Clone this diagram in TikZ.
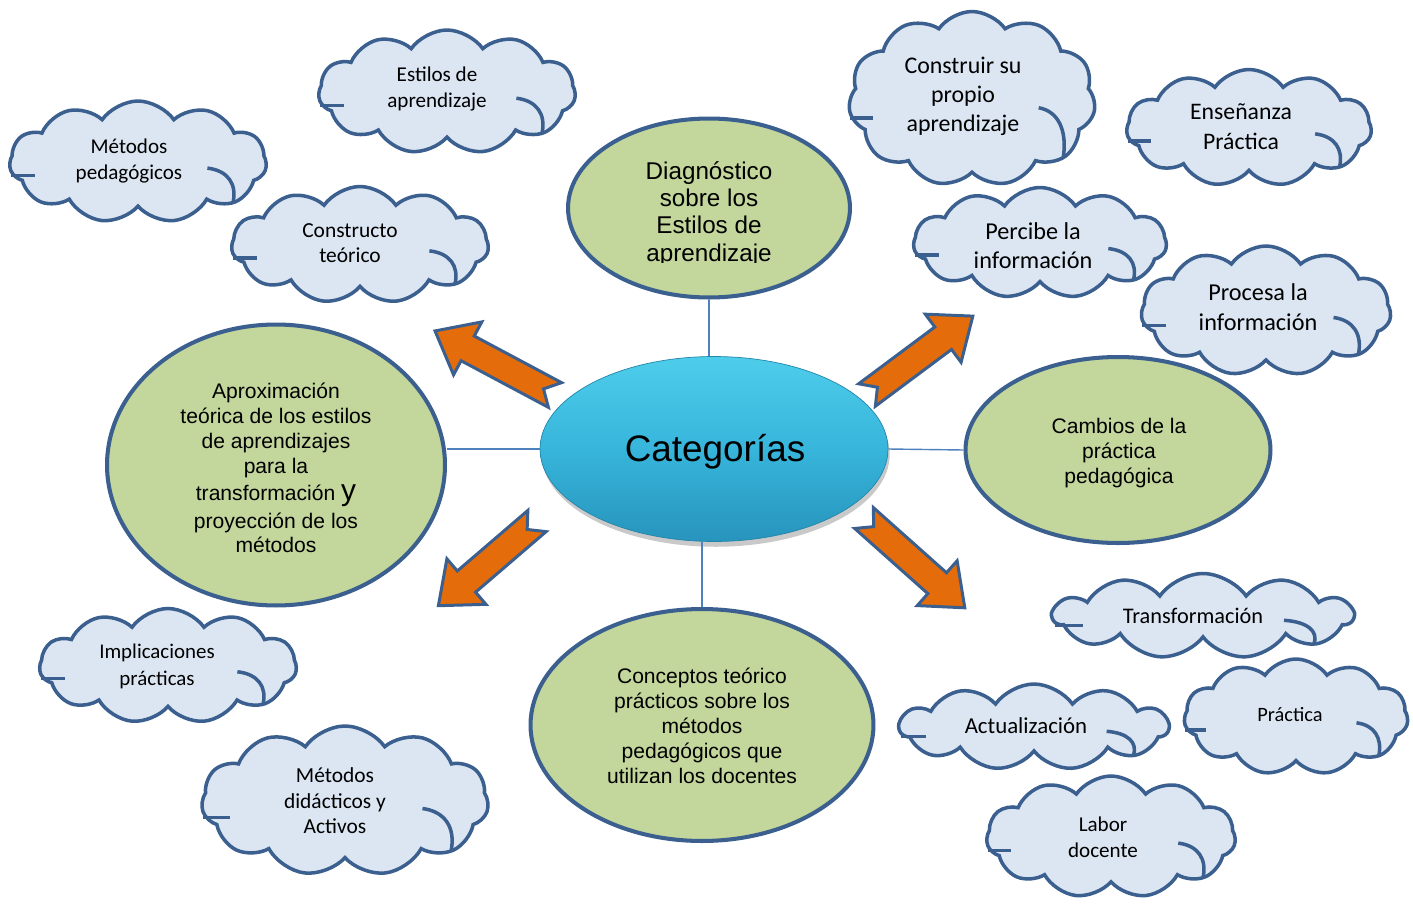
\documentclass[tikz,border=0pt]{standalone}
\usepackage{fontspec}
\setmainfont{Liberation Sans}
\newfontfamily\calibri{Carlito}
\usetikzlibrary{shapes.symbols,shapes.geometric,shadows}
\definecolor{cloudfill}{HTML}{DCE6F2}
\definecolor{edge}{HTML}{3B5F8E}
\definecolor{ellfill}{HTML}{C3D69B}
\definecolor{orng}{HTML}{E46C0A}
\definecolor{connc}{HTML}{4F81BD}
\definecolor{catTop}{HTML}{4ECDEB}
\definecolor{catMid}{HTML}{37B5DB}
\definecolor{catBot}{HTML}{2794BC}
\tikzset{
 cloudsh/.style={cloud, cloud puffs=11, cloud puff arc=110, cloud ignores aspect, draw=edge, fill=cloudfill, line width=2pt, inner sep=0pt},
 cloudmark/.style={draw=edge, line width=2pt},
 ctext/.style={align=center, inner sep=0pt, text=black},
 ell/.style={ellipse, draw=edge, fill=ellfill, line width=2.3pt, inner sep=0pt, align=center, font=\fontsize{12}{14.2}\selectfont},
 etext/.style={align=center, inner sep=0pt, font=\fontsize{12}{14.2}\selectfont},
 conn/.style={draw=connc, line width=0.8pt},
 arrowsty/.style={fill=orng, draw=edge, line width=1.7pt, line join=miter},
}
\newcommand\orangearrow[3]{%
 \begin{scope}[shift={#1}, rotate=#2]
 \filldraw[arrowsty] (0,14) -- ({#3-37},14) -- ({#3-37},30) -- (#3,0) -- ({#3-37},-30) -- ({#3-37},-14) -- (0,-14) -- (13,0) -- cycle;
 \end{scope}}
% inner strokes of a cloud: centre x, centre y, width, height (px)
\newcommand\cloudmarks[4]{%
 \draw[cloudmark] ({#1+0.27*#3},{#2+0.05*#4}) .. controls ({#1+0.35*#3},{#2+0.07*#4}) and ({#1+0.385*#3},{#2+0.18*#4}) .. ({#1+0.37*#3},{#2+0.33*#4});
 \draw[cloudmark] ({#1-0.495*#3},{#2+0.11*#4}) -- ({#1-0.40*#3},{#2+0.11*#4});
}
\begin{document}
\begin{tikzpicture}[x=0.02cm, y=-0.02cm]
\useasboundingbox (0,0) rectangle (1413,903);

% clouds
\node[cloudsh, minimum width=5.14cm, minimum height=2.44cm] (c1) at (138,162) {};
\cloudmarks{138}{162}{257}{122}
\node[ctext, font=\calibri\fontsize{12}{14.8}\selectfont] (t1) at (129,161) {Métodos\\pedagógicos};
\node[cloudsh, minimum width=5.14cm, minimum height=2.48cm] (c2) at (447,92) {};
\cloudmarks{447}{92}{257}{124}
\node[ctext, font=\calibri\fontsize{12}{14.8}\selectfont] (t2) at (437,89) {Estilos de\\aprendizaje};
\node[cloudsh, minimum width=5.14cm, minimum height=2.34cm] (c3) at (360,245) {};
\cloudmarks{360}{245}{257}{117}
\node[ctext, font=\calibri\fontsize{12.2}{14.4}\selectfont] (t3) at (350,243) {Constructo\\teórico};
\node[cloudsh, minimum width=4.94cm, minimum height=3.5cm] (c4) at (972,99) {};
\cloudmarks{972}{99}{247}{175}
\node[ctext, font=\calibri\fontsize{13.6}{16.5}\selectfont] (t4) at (963,96) {Construir su\\propio\\aprendizaje};
\node[cloudsh, minimum width=4.9cm, minimum height=2.34cm] (c5) at (1249,128) {};
\cloudmarks{1249}{128}{245}{117}
\node[ctext, font=\calibri\fontsize{13.5}{17}\selectfont] (t5) at (1241,127) {Enseñanza\\Práctica};
\node[cloudsh, minimum width=5.06cm, minimum height=2.22cm] (c6) at (1040,243) {};
\cloudmarks{1040}{243}{253}{111}
\node[ctext, font=\calibri\fontsize{13.8}{16.5}\selectfont] (t6) at (1033,246) {Percibe la\\información};
\node[cloudsh, minimum width=5.0cm, minimum height=2.6cm] (c7) at (1266,311) {};
\cloudmarks{1266}{311}{250}{130}
\node[ctext, font=\calibri\fontsize{13.8}{16.8}\selectfont] (t7) at (1258,307) {Procesa la\\información};
\node[cloudsh, minimum width=5.14cm, minimum height=2.3cm] (c8) at (168,666) {};
\cloudmarks{168}{666}{257}{115}
\node[ctext, font=\calibri\fontsize{11.9}{15.4}\selectfont] (t8) at (157,666) {Implicaciones\\prácticas};
\node[cloudsh, minimum width=5.74cm, minimum height=3.0cm] (c9) at (345,801) {};
\cloudmarks{345}{801}{287}{150}
\node[ctext, font=\calibri\fontsize{12.2}{14.5}\selectfont] (t9) at (335,801) {Métodos\\didácticos y\\Activos};
\node[cloudsh, minimum width=6.0cm, minimum height=1.7cm] (c10) at (1203,616) {};
\cloudmarks{1203}{616}{300}{85}
\node[ctext, font=\calibri\fontsize{12.7}{15}\selectfont] (t10) at (1193,616) {Transformación};
\node[cloudsh, minimum width=5.38cm, minimum height=1.72cm] (c11) at (1034,727) {};
\cloudmarks{1034}{727}{269}{86}
\node[ctext, font=\calibri\fontsize{13}{15}\selectfont] (t11) at (1026,726) {Actualización};
\node[cloudsh, minimum width=4.48cm, minimum height=2.32cm] (c12) at (1296,717) {};
\cloudmarks{1296}{717}{224}{116}
\node[ctext, font=\calibri\fontsize{11.6}{14}\selectfont] (t12) at (1290,715) {Práctica};
\node[cloudsh, minimum width=4.98cm, minimum height=2.44cm] (c13) at (1111,837) {};
\cloudmarks{1111}{837}{249}{122}
\node[ctext, font=\calibri\fontsize{12}{14.8}\selectfont] (t13) at (1103,837) {Labor\\docente};

% green ellipses
\node[ell, minimum width=5.64cm, minimum height=3.58cm] (diag) at (709,208) {};
\begin{scope}
 \clip (560,100) rectangle (860,262);
 \node[etext, font=\fontsize{13.8}{15.4}\selectfont] (diagt) at (709,214) {Diagnóstico\\sobre los\\Estilos de\\aprendizaje};
\end{scope}
\node[ell, minimum width=6.76cm, minimum height=5.62cm] (aprox) at (276,465) {};
\node[etext] (aproxt) at (276,468) {Aproximación\\teórica de los estilos\\de aprendizajes\\para la\\[1.6pt]transformación {\fontsize{17}{14.2}\selectfont y}\\[1.2pt]proyección de los\\métodos};
\node[ell, minimum width=6.1cm, minimum height=3.72cm] (camb) at (1118,450) {};
\node[etext] (cambt) at (1119,453) {Cambios de la\\práctica\\pedagógica};
\node[ell, minimum width=6.86cm, minimum height=4.64cm] (conc) at (702,725) {};
\node[etext] (conct) at (702,726) {Conceptos teórico\\prácticos sobre los\\métodos\\pedagógicos que\\utilizan los docentes};

% arrows
\orangearrow{(555,395)}{151.9}{136}
\orangearrow{(867,395)}{36.7}{132}
\orangearrow{(537,521)}{-139.35}{130}
\orangearrow{(864,518)}{-41.7}{135}

% central ellipse
\node[ellipse, minimum width=6.96cm, minimum height=3.7cm, inner sep=0pt, top color=catTop, bottom color=catBot, middle color=catMid, draw=catBot!90!black, line width=0.4pt, drop shadow={shadow xshift=1pt, shadow yshift=-3pt, opacity=0.3, fill=black!70}] (cat) at (714,449) {};
\node[inner sep=0pt, font=\fontsize{21}{25}\selectfont] (catt) at (715,452) {Categorías};

% connectors
\draw[conn] (diag.south) -- (diag.south |- cat.north);
\draw[conn] (cat.west) -- (aprox.east |- cat.west);
\draw[conn] (cat.east) -- (camb.west);
\draw[conn] (conc.north) -- (conc.north |- cat.south);
\end{tikzpicture}
\end{document}
